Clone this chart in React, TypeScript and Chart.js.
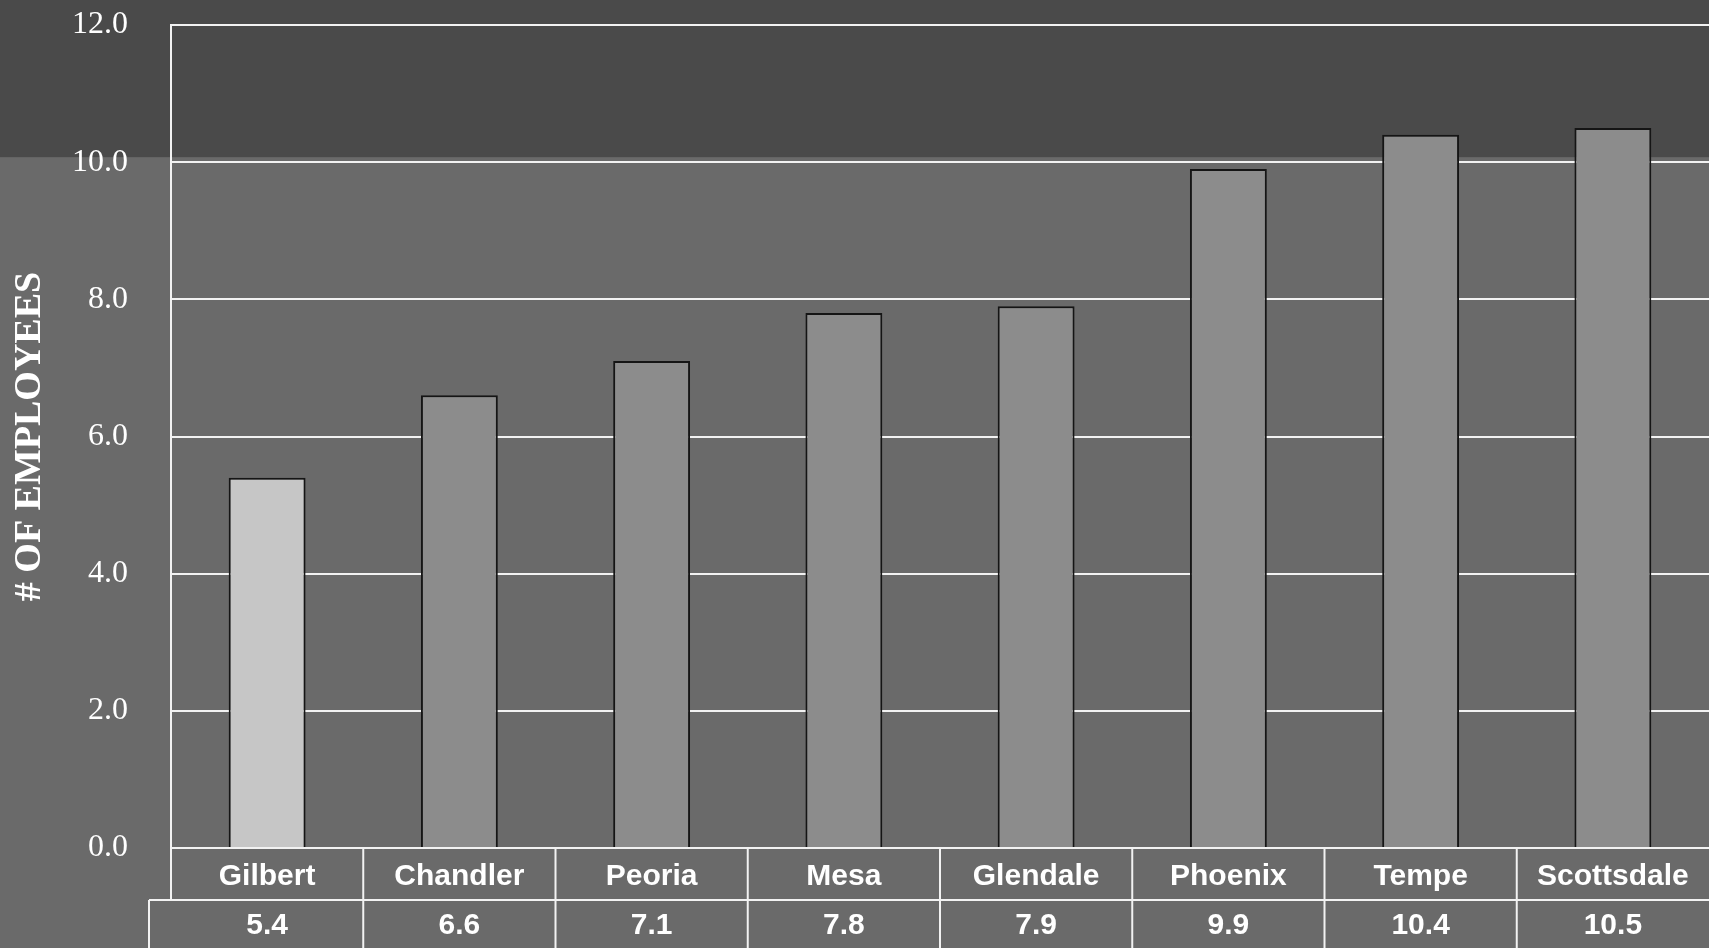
import React, { useEffect, useRef } from "react";
import { Chart, registerables } from "chart.js";

Chart.register(...registerables);

const categories = ["Gilbert", "Chandler", "Peoria", "Mesa", "Glendale", "Phoenix", "Tempe", "Scottsdale"];
const employees = [5.4, 6.6, 7.1, 7.8, 7.9, 9.9, 10.4, 10.5];
const yTicks = [0, 2, 4, 6, 8, 10, 12];
const yTitle = "# OF EMPLOYEES";
const highlighted = "Gilbert";

const BG = "#6a6a6a";
const BAND = "#4a4a4a";
const BAR = "#8c8c8c";
const HI = "#c6c6c6";
const LINE = "#f2f2f2";
const TEXT = "#ffffff";

const decor = {
  id: "decor",
  beforeDraw(chart: any) {
    const { ctx, width, height } = chart;
    const y = chart.scales.y;
    ctx.save();
    ctx.fillStyle = BG;
    ctx.fillRect(0, 0, width, height);
    const yb = y.getPixelForValue(10) - 5;
    ctx.fillStyle = BAND;
    ctx.fillRect(0, 0, width, yb);
    ctx.restore();
  },
  afterDraw(chart: any) {
    const { ctx, chartArea } = chart;
    const x = chart.scales.x;
    const top = chartArea.bottom;
    const mid = top + 52;
    const bottom = chart.height;
    const valueLeft = chartArea.left - 22;
    ctx.save();
    ctx.strokeStyle = LINE;
    ctx.lineWidth = 2;
    const line = (x1: number, y1: number, x2: number, y2: number) => {
      ctx.beginPath();
      ctx.moveTo(x1, y1);
      ctx.lineTo(x2, y2);
      ctx.stroke();
    };
    line(valueLeft, mid, chart.width, mid);
    line(chartArea.left, top, chartArea.left, mid);
    line(valueLeft, mid, valueLeft, bottom);
    for (let i = 1; i < categories.length; i++) {
      const xb = (x.getPixelForValue(i - 1) + x.getPixelForValue(i)) / 2;
      line(xb, top, xb, bottom);
    }
    ctx.fillStyle = TEXT;
    ctx.font = "bold 30px 'Liberation Sans', Arial, sans-serif";
    ctx.textAlign = "center";
    ctx.textBaseline = "middle";
    employees.forEach((v, i) => {
      ctx.fillText(v.toFixed(1), x.getPixelForValue(i), (mid + bottom) / 2 + 2);
    });
    ctx.translate(40, (chartArea.top + chartArea.bottom) / 2);
    ctx.rotate(-Math.PI / 2);
    ctx.font = "bold 38px 'Liberation Serif', 'Times New Roman', serif";
    ctx.textAlign = "center";
    ctx.textBaseline = "alphabetic";
    ctx.fillText(yTitle, 0, 0);
    ctx.restore();
  },
};

export default function App() {
  const ref = useRef<HTMLCanvasElement>(null);
  useEffect(() => {
    if (!ref.current) return;
    const chart = new Chart(ref.current, {
      type: "bar",
      data: {
        labels: categories,
        datasets: [
          {
            data: employees,
            backgroundColor: categories.map((c) => (c === highlighted ? HI : BAR)),
            borderColor: "#151515",
            borderWidth: 2,
            barPercentage: 0.4,
            categoryPercentage: 1,
          },
        ],
      },
      options: {
        responsive: false,
        animation: false,
        layout: { padding: { top: 25, right: 0, left: 0, bottom: 0 } },
        plugins: { legend: { display: false }, tooltip: { enabled: false } },
        scales: {
          x: {
            afterFit: (s: any) => {
              s.height = 100;
              s.paddingLeft = 0;
              s.paddingRight = 0;
            },
            grid: { display: false },
            border: { display: true, color: LINE, width: 2 },
            ticks: {
              color: TEXT,
              padding: 3,
              maxRotation: 0,
              autoSkip: false,
              font: { family: "'Liberation Sans', Arial, sans-serif", size: 30, weight: "bold" },
            },
          },
          y: {
            min: 0,
            max: 12,
            afterFit: (s: any) => {
              s.width = 171;
              s.paddingTop = 0;
              s.paddingBottom = 0;
            },
            afterBuildTicks: (s: any) => {
              s.ticks = yTicks.map((v) => ({ value: v }));
            },
            grid: { color: LINE, lineWidth: 2, drawTicks: false },
            border: { display: true, color: LINE, width: 2 },
            ticks: {
              color: TEXT,
              padding: 43,
              callback: (v: any) => Number(v).toFixed(1),
              font: { family: "'Liberation Serif', 'Times New Roman', serif", size: 32 },
            },
          },
        },
      },
      plugins: [decor],
    });
    return () => chart.destroy();
  }, []);
  return (
    <div style={{ position: "fixed", left: 0, top: 0, width: 1709, height: 948 }}>
      <canvas ref={ref} width={1709} height={948} />
    </div>
  );
}
